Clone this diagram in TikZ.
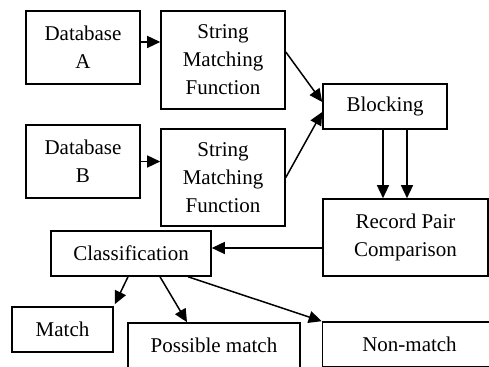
\documentclass[tikz,border=0pt]{standalone}
\usepackage{fontspec}
\setmainfont{Liberation Serif}
\usetikzlibrary{arrows.meta}
\begin{document}
\begin{tikzpicture}[x=0.5pt,y=-0.5pt,
  box/.style={draw=black, line width=0.8pt, align=center, inner sep=0pt,
    font=\fontsize{10.5pt}{14pt}\selectfont},
  conn/.style={line width=0.75pt, -{Triangle[length=6.5pt,width=6pt]}}]
\useasboundingbox (0,0) rectangle (489,367);
\begin{scope}
\clip (0,0) rectangle (489,367);
\node[box, minimum width=57pt, minimum height=36.5pt] (dba) at (83,47.5) {Database\\A};
\node[box, minimum width=62pt, minimum height=49pt] (smfa) at (223,60) {String\\Matching\\Function};
\node[box, minimum width=57pt, minimum height=36.5pt] (dbb) at (83,161.5) {Database\\B};
\node[box, minimum width=62pt, minimum height=48.5pt] (smfb) at (223,177.5) {String\\Matching\\Function};
\node[box, minimum width=62pt, minimum height=22.5pt] (blk) at (385,106.5) {Blocking};
\node[box, minimum width=82.5pt, minimum height=38.5pt] (rpc) at (405.5,237.5) {Record Pair\\Comparison};
\node[box, minimum width=80pt, minimum height=22.5pt] (cls) at (131,253.5) {Classification};
\node[box, minimum width=50.5pt, minimum height=22.5pt] (mat) at (62.5,329.5) {Match};
\node[box, minimum width=86pt, minimum height=22.5pt] (pm) at (214,345.5) {Possible match};
\node[box, minimum width=87pt, minimum height=22.5pt] (nm) at (409.5,344.5) {Non-match};

\draw[conn] ([yshift=2.75pt]dba.east) -- ([yshift=2.75pt]smfa.west |- dba.east);
\draw[conn] (dbb.east) -- (smfb.west |- dbb.east);
\draw[conn] ([yshift=4pt]smfa.east) -- ([yshift=2.25pt]blk.west);
\draw[conn] (smfb.east) -- ([yshift=-2.75pt]blk.west);
\draw[conn] ([xshift=-1pt]blk.south) -- ([xshift=-1pt]blk.south |- rpc.north);
\draw[conn] ([xshift=11pt]blk.south) -- ([xshift=11pt]blk.south |- rpc.north);
\draw[conn] ([yshift=-5.25pt]rpc.west) -- ([yshift=-5.25pt]cls.east |- rpc.west);
\draw[conn] ([xshift=-1.5pt]cls.south) -- ([xshift=0.5pt,yshift=1pt]mat.north east);
\draw[conn] ([xshift=14.5pt]cls.south) -- ([xshift=-13.5pt]pm.north);
\draw[conn] ([xshift=28.5pt]cls.south) -- (nm.north west);
\end{scope}
\end{tikzpicture}
\end{document}
